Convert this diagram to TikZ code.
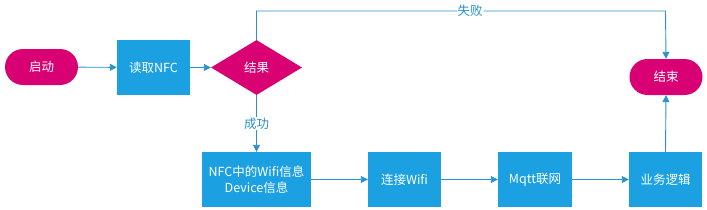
\documentclass[tikz,border=0pt]{standalone}
\usepackage{fontspec}
\setmainfont{Noto Sans CJK SC}
\usetikzlibrary{shapes.geometric,shapes.misc,arrows.meta}
\definecolor{mag}{HTML}{D80073}
\definecolor{blu}{HTML}{1BA1E2}
\definecolor{lin}{HTML}{2A92CE}
\tikzset{
  base/.style={text=white,font=\fontsize{12.5}{15.5}\selectfont,inner sep=0pt,align=center},
  term/.style={base,fill=mag,rounded rectangle,minimum width=73pt,minimum height=36pt},
  proc/.style={base,fill=blu,minimum width=73pt,minimum height=55pt},
  dec/.style={base,fill=mag,diamond,minimum width=91pt,minimum height=55pt,aspect=1.65},
  conn/.style={draw=lin,line width=0.9pt,-{Triangle[length=7pt,width=7pt]}},
  lbl/.style={fill=white,text=lin,font=\fontsize{12.5}{15}\selectfont,inner sep=1pt}
}
\begin{document}
\begin{tikzpicture}[x=1pt,y=-1pt]
\useasboundingbox (0,0) rectangle (707,209);
\node[term] (start) at (41.5,67) {启动};
\node[proc] (read) at (153.5,67.5) {读取NFC};
\node[dec] (res) at (256.5,67.5) {结果};
\node[term] (end) at (666,77) {结束};
\node[proc,minimum width=109pt] (info) at (256.5,179.5) {NFC中的Wifi信息\\Device信息};
\node[proc] (wifi) at (404.5,179.5) {连接Wifi};
\node[proc,minimum width=74pt] (mqtt) at (535,179.5) {Mqtt联网};
\node[proc] (biz) at (665.5,179.5) {业务逻辑};
\coordinate (c1) at (256.5,11);
\coordinate (c2) at (665.5,11);
\draw[conn] (start) -- (read);
\draw[conn] (read) -- (res);
\draw[conn] (res.north) -- (c1) -- node[lbl,pos=0.522] {失败} (c2) -- (end.north);
\draw[conn] (res.south) -- node[lbl,pos=0.5] {成功} (info.north);
\draw[conn] (info) -- (wifi);
\draw[conn] (wifi) -- (mqtt);
\draw[conn] (mqtt) -- (biz);
\draw[conn] (biz.north) -- (end.south);
\end{tikzpicture}
\end{document}
